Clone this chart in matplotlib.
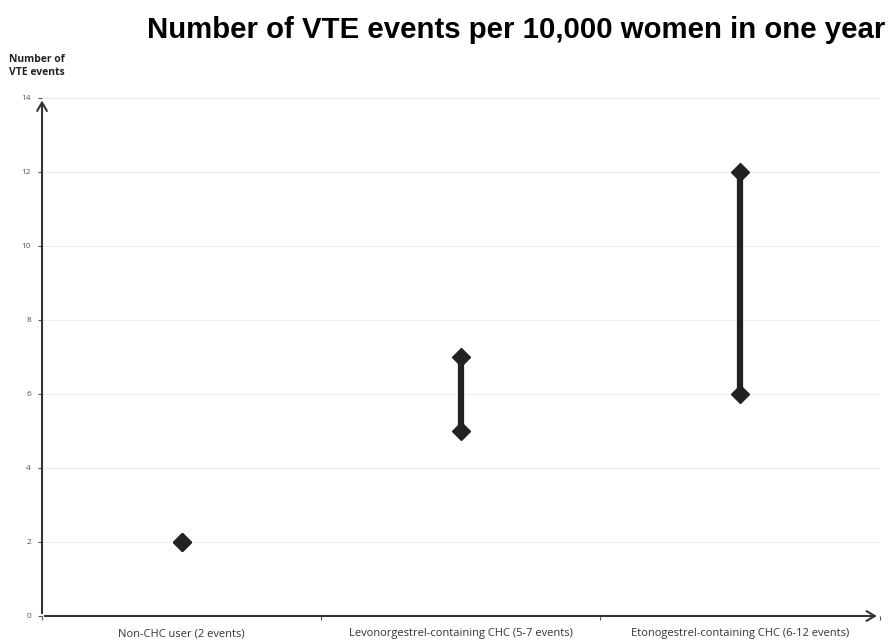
import matplotlib
matplotlib.use("Agg")
import matplotlib.pyplot as plt

categories = ["Non-CHC user (2 events)",
              "Levonorgestrel-containing CHC (5-7 events)",
              "Etonogestrel-containing CHC (6-12 events)"]
low_values = [2, 5, 6]
high_values = [2, 7, 12]
y_ticks = [0, 2, 4, 6, 8, 10, 12, 14]

fig = plt.figure(figsize=(8.94, 6.43), dpi=100)
ax = fig.add_axes([0.047, 0.042, 0.937, 0.806])
ax.set_xlim(0, 3)
ax.set_ylim(0, 14)
for s in ax.spines.values():
    s.set_visible(False)

for yv in y_ticks[1:]:
    ax.axhline(yv, color="#eeeeee", lw=0.8, zorder=0)

xs = [i + 0.5 for i in range(len(categories))]
for x, lo, hi in zip(xs, low_values, high_values):
    if hi != lo:
        ax.plot([x, x], [lo, hi], color="#222222", lw=4.5, solid_capstyle="butt", zorder=2)
    ax.plot([x, x], [lo, hi], linestyle="none", marker="D", markersize=9,
            color="#222222", zorder=3)

ax.annotate("", xy=(3, 0), xytext=(0, 0), xycoords="data",
            arrowprops=dict(arrowstyle="->,head_length=0.6,head_width=0.35", color="#333333", lw=1.5),
            annotation_clip=False)
ax.annotate("", xy=(0, 14), xytext=(0, 0), xycoords="data",
            arrowprops=dict(arrowstyle="->,head_length=0.6,head_width=0.35", color="#333333", lw=1.5),
            annotation_clip=False)

ax.set_yticks(y_ticks)
ax.set_yticklabels([str(v) for v in y_ticks], fontsize=6, color="#555555", family="Open Sans")
ax.tick_params(axis="y", length=3, width=0.8, color="#555555", pad=5)
ax.set_xticks([0, 1, 2, 3])
ax.set_xticklabels([])
ax.tick_params(axis="x", which="major", length=3, width=0.8, color="#555555")
ax.set_xticks(xs, minor=True)
ax.set_xticklabels(categories, minor=True, fontsize=8, color="#333333", family="Open Sans")
ax.tick_params(axis="x", which="minor", length=0, pad=9)

fig.text(0.164, 0.953, "Number of VTE events per 10,000 women in one year",
         fontsize=21.2, fontweight="bold", family="Liberation Sans", ha="left", va="center")
fig.text(0.010, 0.897, "Number of\nVTE events", fontsize=7.5, fontweight="bold",
         family="Open Sans", ha="left", va="center", linespacing=1.3, color="#222222")

fig.savefig("out.png", dpi=100)
